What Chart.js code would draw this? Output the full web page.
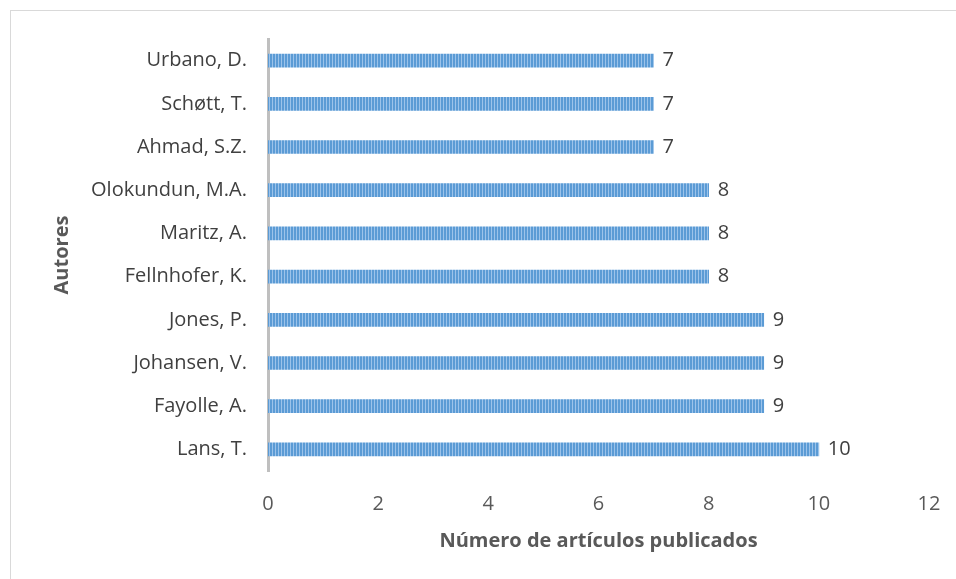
<!DOCTYPE html>
<html><head><meta charset="utf-8">
<script src="https://cdn.jsdelivr.net/npm/chart.js@4/dist/chart.umd.min.js"></script>
<style>
html,body{margin:0;padding:0;background:#fff;overflow:hidden;}
#wrap{position:absolute;left:0;top:0;width:956px;height:579px;}
#frame{position:absolute;left:10px;top:10px;width:1000px;height:700px;border:1px solid #d9d9d9;box-sizing:border-box;}
canvas{position:absolute;left:0;top:0;}
</style></head>
<body><div id="wrap"><div id="frame"></div><canvas id="c" width="956" height="579"></canvas></div>
<script>
const authors = ["Urbano, D.","Schøtt, T.","Ahmad, S.Z.","Olokundun, M.A.","Maritz, A.","Fellnhofer, K.","Jones, P.","Johansen, V.","Fayolle, A.","Lans, T."];
const articles = [7,7,7,8,8,8,9,9,9,10];
const xTicks = [0,2,4,6,8,10,12];
const xTitle = "Número de artículos publicados";
const yTitle = "Autores";

const FONT = "'Open Sans', sans-serif";

function stripePattern(ctx){
  const p = document.createElement('canvas');
  p.width = 3; p.height = 4;
  const g = p.getContext('2d');
  g.fillStyle = '#5b9bd5'; g.fillRect(0,0,2,4);
  g.fillStyle = '#9cc3ea'; g.fillRect(2,0,1,4);
  return ctx.createPattern(p,'repeat');
}

const valueLabels = {
  id:'valueLabels',
  afterDatasetsDraw(chart){
    const ctx = chart.ctx;
    const meta = chart.getDatasetMeta(0);
    ctx.save();
    ctx.font = "20px " + FONT;
    ctx.fillStyle = '#404040';
    ctx.textBaseline = 'middle';
    ctx.textAlign = 'left';
    meta.data.forEach((bar,i)=>{
      ctx.fillText(String(articles[i]), bar.x + 9, bar.y);
    });
    ctx.restore();
  }
};

const ctx = document.getElementById('c').getContext('2d');
new Chart(ctx,{
  type:'bar',
  data:{labels:authors,datasets:[{data:articles,backgroundColor:stripePattern(ctx),barThickness:13,borderWidth:0}]},
  options:{
    indexAxis:'y',
    responsive:false,
    animation:false,
    layout:{padding:{left:50,top:39,right:27,bottom:26}},
    plugins:{legend:{display:false},tooltip:{enabled:false}},
    scales:{
      x:{min:xTicks[0],max:xTicks[xTicks.length-1],
        afterBuildTicks(s){ s.ticks = xTicks.map(v=>({value:v})); },
        ticks:{color:'#595959',font:{family:FONT,size:20},padding:21},
        grid:{display:false,drawTicks:false},
        border:{display:false},
        title:{display:true,text:xTitle,color:'#595959',font:{family:FONT,size:20,weight:'bold'},padding:{top:0,bottom:0}},
        afterFit(s){ s.height = 82; s.paddingRight = 0; s.paddingLeft = 0; }
      },
      y:{
        ticks:{color:'#404040',font:{family:FONT,size:20},padding:21},
        grid:{display:false,drawTicks:false},
        border:{display:true,color:'#bfbfbf',width:3},
        title:{display:true,text:yTitle,color:'#595959',font:{family:FONT,size:20,weight:'bold'},padding:{top:0,bottom:0}},
        afterFit(s){ s.width = 218; }
      }
    }
  },
  plugins:[valueLabels]
});
</script></body></html>
